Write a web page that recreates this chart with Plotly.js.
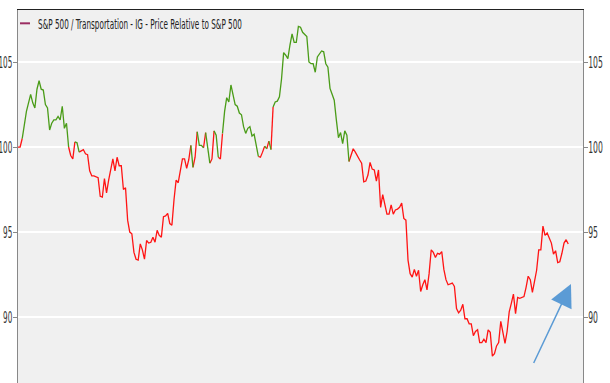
<!DOCTYPE html>
<html>
<head>
<meta charset="utf-8">
<script src="https://cdn.plot.ly/plotly-3.0.1.min.js"></script>
<style>
  html, body { margin: 0; padding: 0; background: #ffffff; }
  #chart { width: 610px; height: 383px; }
</style>
</head>
<body>
<div id="chart"></div>
<script>
// Price of the Transportation industry group relative to the S&P 500 (rebased to 100), daily
const relative = [
  100.0, 100.0, 100.5, 101.4, 102.1, 102.6, 103.1, 102.6, 102.3, 103.4,
  103.9, 103.4, 103.35, 102.5, 102.3, 101.0, 101.4, 101.6, 101.6, 101.8,
  101.6, 102.4, 101.1, 101.4, 100.0, 99.5, 99.3, 100.3, 100.25, 99.7,
  99.8, 99.85, 99.6, 99.55, 98.6, 98.3, 98.3, 98.25, 98.2, 97.1,
  97.05, 98.15, 97.3, 98.05, 98.8, 99.3, 98.6, 99.4, 98.9, 98.9,
  97.5, 97.6, 95.7, 95.0, 94.9, 93.8, 93.4, 93.35, 94.3, 93.95,
  93.4, 94.5, 94.35, 94.4, 94.7, 94.4, 95.1, 94.8, 94.7, 95.9,
  95.95, 96.1, 95.5, 95.4, 96.9, 98.05, 97.9, 98.65, 99.3, 99.3,
  98.75, 99.25, 100.1, 98.8, 99.4, 100.9, 100.1, 100.1, 99.95, 100.85,
  100.05, 99.05, 99.3, 100.95, 100.7, 99.4, 99.3, 100.8, 102.1, 102.9,
  102.65, 103.65, 102.95, 102.5, 102.4, 102.0, 101.9, 101.2, 100.8, 101.1,
  101.2, 100.65, 100.75, 100.1, 99.45, 99.4, 99.7, 100.05, 99.9, 100.35,
  99.85, 102.35, 102.65, 102.7, 102.95, 104.0, 105.55, 105.4, 105.2, 106.0,
  106.65, 106.15, 106.15, 107.1, 107.05, 106.75, 106.6, 106.5, 105.0, 104.9,
  104.9, 104.4, 105.3, 105.5, 105.65, 105.6, 104.9, 104.7, 103.45, 103.1,
  102.75, 101.6, 100.55, 100.85, 100.2, 100.95, 100.7, 99.15, 99.55, 99.9,
  99.7, 99.45, 99.25, 99.05, 97.95, 98.0, 98.35, 99.1, 98.7, 98.65,
  98.0, 98.65, 96.45, 97.2, 96.7, 96.05, 96.05, 96.6, 96.05, 96.3,
  96.35, 96.45, 96.7, 95.8, 95.7, 93.35, 92.55, 92.35, 92.8, 92.4,
  92.75, 91.5, 91.9, 92.2, 91.6, 92.55, 93.95, 93.8, 93.5, 93.75,
  93.7, 93.85, 92.8, 92.2, 91.9, 91.95, 92.0, 91.8, 90.5, 90.25,
  90.4, 90.75, 89.9, 89.9, 89.6, 89.6, 88.9, 89.15, 89.25, 88.5,
  88.5, 88.7, 88.5, 89.25, 89.1, 87.7, 87.85, 88.3, 88.5, 89.75,
  89.15, 88.45, 89.15, 90.3, 90.8, 91.35, 90.2, 91.15, 91.1, 91.15,
  91.2, 91.75, 92.4, 92.2, 91.45, 92.1, 92.75, 93.95, 93.95, 95.35,
  94.8, 94.95, 94.6, 94.35, 93.7, 93.9, 93.2, 93.25, 93.75, 94.35,
  94.55, 94.3
];
const days = relative.map((_, i) => i);

const baseline = 100;
const yTicks = [90, 95, 100, 105];
const seriesName = 'S&P 500 / Transportation - IG - Price Relative to S&P 500';

const GREEN = '#4a9c18';
const RED = '#ff1414';
const FONT = '"DejaVu Sans Condensed", "Liberation Sans", sans-serif';

// Each segment takes the colour of the side of the baseline its starting day sits on.
const up = { x: [], y: [] };
const down = { x: [], y: [] };
let prevSide = null;
for (let i = 0; i < relative.length - 1; i++) {
  const side = relative[i] > baseline ? up : down;
  if (side !== prevSide) {
    if (prevSide) { side.x.push(null); side.y.push(null); }
    side.x.push(days[i]); side.y.push(relative[i]);
  }
  side.x.push(days[i + 1]); side.y.push(relative[i + 1]);
  prevSide = side;
}

const lineTrace = (seg, color) => ({
  type: 'scatter', mode: 'lines', x: seg.x, y: seg.y,
  line: { color: color, width: 1.3 }, connectgaps: false,
  hoverinfo: 'skip', showlegend: false
});

const traces = [
  lineTrace(down, RED),
  lineTrace(up, GREEN),
  // mirror axis on the right
  { type: 'scatter', mode: 'lines', x: [null], y: [null], yaxis: 'y2', showlegend: false, hoverinfo: 'skip' }
];

const yRange = [86.12, 108.06];
const axisY = {
  range: yRange, tickvals: yTicks, ticks: 'outside', ticklen: 4, tickcolor: '#888888',
  showline: true, linecolor: '#888888', linewidth: 1, zeroline: false,
  tickfont: { family: FONT, size: 16, color: '#333333' }, fixedrange: true
};

const layout = {
  width: 610, height: 383,
  margin: { l: 18, r: 27, t: 10, b: 0 },
  paper_bgcolor: '#ffffff', plot_bgcolor: '#f0f0f0',
  showlegend: false,
  xaxis: {
    range: [0, 268], side: 'top', showgrid: false, zeroline: false,
    showticklabels: false, ticks: '', showline: true, linecolor: '#222222', linewidth: 1,
    fixedrange: true
  },
  yaxis: Object.assign({}, axisY, { side: 'left', showgrid: true, gridcolor: '#ffffff', gridwidth: 1.5 }),
  yaxis2: Object.assign({}, axisY, { side: 'right', overlaying: 'y', showgrid: false }),
  shapes: [
    { type: 'line', xref: 'paper', x0: 0, x1: 1, yref: 'y', y0: baseline, y1: baseline,
      line: { color: '#9a9a9a', width: 2 }, layer: 'between' },
    // legend swatch
    { type: 'line', xref: 'paper', yref: 'paper', x0: 0.0035, x1: 0.0212, y0: 0.9643, y1: 0.9643,
      line: { color: '#9b2d62', width: 2 } }
  ],
  annotations: [
    { xref: 'paper', yref: 'paper', x: 0.0319, y: 0.9625, xanchor: 'left', yanchor: 'middle',
      text: seriesName, showarrow: false, font: { family: FONT, size: 13.5, color: '#222222' } },
    { xref: 'x', yref: 'y', x: 262.3, y: 91.94, ax: -38, ay: 80.5, text: '',
      showarrow: true, arrowhead: 2, arrowsize: 3, arrowwidth: 1.5, arrowcolor: '#5b9bd5' }
  ]
};

// Squeeze a text element horizontally to a target width, pinned at one edge, with an optional shift.
function squeeze(t, targetWidth, pin, shift) {
  const b = t.getBBox();
  if (!b.width) return;
  const s = targetWidth / b.width;
  const px = pin === 'right' ? b.x + b.width : b.x;
  const prev = t.getAttribute('transform') || '';
  t.setAttribute('transform',
    `${prev} translate(${(px + shift).toFixed(2)},0) scale(${s.toFixed(4)},1) translate(${(-px).toFixed(2)},0)`);
}

// The chart's lettering is a tall, tightly condensed face.
function condense(gd) {
  gd.querySelectorAll('.ytick text').forEach(t => squeeze(t, t.textContent.length * 4.6, 'right', 2.5));
  gd.querySelectorAll('.y2tick text').forEach(t => squeeze(t, t.textContent.length * 4.9, 'left', -3));
  gd.querySelectorAll('.annotation-text').forEach(t => {
    if (t.textContent === seriesName) squeeze(t, 204, 'left', 0);
  });
}

Plotly.newPlot('chart', traces, layout, { staticPlot: true, displayModeBar: false }).then(condense);
</script>
</body>
</html>
